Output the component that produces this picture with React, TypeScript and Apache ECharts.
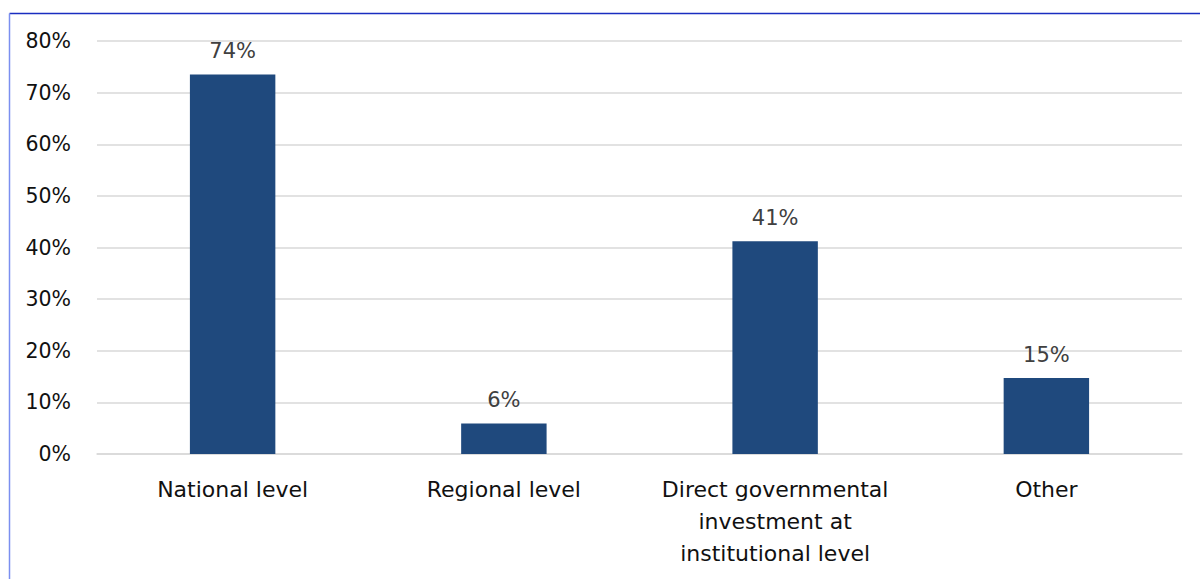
import React, { useEffect, useRef } from "react";
import * as echarts from "echarts";

const categories = [
  "National level",
  "Regional level",
  "Direct governmental\ninvestment at\ninstitutional level",
  "Other",
];
const values = [73.5, 5.9, 41.2, 14.7];
const dataLabels = ["74%", "6%", "41%", "15%"];
const yTicks = [0, 10, 20, 30, 40, 50, 60, 70, 80];

export default function App() {
  const ref = useRef<HTMLDivElement>(null);
  useEffect(() => {
    document.body.style.margin = "0";
    const chart = echarts.init(ref.current!, null, { renderer: "svg" });
    const font = "'DejaVu Sans', sans-serif";
    chart.setOption({
      animation: false,
      backgroundColor: "#ffffff",
      grid: { left: 97, right: 18, top: 41, bottom: 125, containLabel: false },
      xAxis: {
        type: "category",
        data: categories,
        axisLine: { show: true, lineStyle: { color: "#d9d9d9", width: 1.5 } },
        axisTick: { show: false },
        axisLabel: {
          color: "#111111",
          fontFamily: font,
          fontSize: 22,
          lineHeight: 32,
          margin: 19,
          interval: 0,
        },
      },
      yAxis: {
        type: "value",
        min: 0,
        max: 80,
        interval: 10,
        axisLine: { show: false },
        axisTick: { show: false },
        splitLine: { lineStyle: { color: "#d9d9d9", width: 1.5 } },
        axisLabel: {
          color: "#111111",
          fontFamily: font,
          fontSize: 20.5,
          margin: 26,
          formatter: (v: number) => (yTicks.includes(v) ? v + "%" : ""),
        },
      },
      series: [
        {
          type: "bar",
          data: values,
          barWidth: "31.5%",
          itemStyle: { color: "#1f497d" },
          label: {
            show: true,
            position: "top",
            distance: 13,
            color: "#404040",
            fontFamily: font,
            fontSize: 21,
            formatter: (p: any) => dataLabels[p.dataIndex],
          },
        },
      ],
      graphic: [
        {
          type: "line",
          shape: { x1: 9.5, y1: 13.5, x2: 1200, y2: 13.5 },
          style: { stroke: "#1a2dc0", lineWidth: 1.5 },
        },
        {
          type: "line",
          shape: { x1: 9.5, y1: 13.5, x2: 9.5, y2: 579 },
          style: { stroke: "#7b8ff0", lineWidth: 1.5 },
        },
      ],
    });
    return () => chart.dispose();
  }, []);
  return <div ref={ref} style={{ width: 1200, height: 579 }} />;
}
